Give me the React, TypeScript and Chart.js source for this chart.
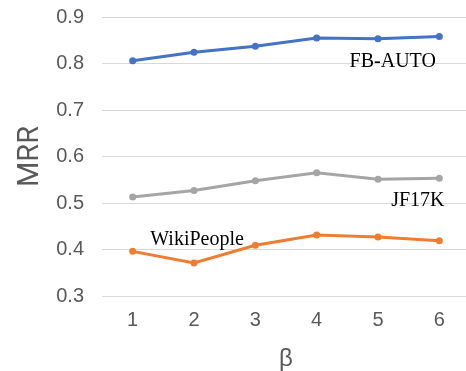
import React, { useEffect, useRef } from "react";
import { Chart, registerables } from "chart.js";

Chart.register(...registerables);

const categories = ["1", "2", "3", "4", "5", "6"];
const fbAuto = [0.806, 0.824, 0.837, 0.855, 0.853, 0.858];
const jf17k = [0.513, 0.527, 0.548, 0.565, 0.551, 0.553];
const wikiPeople = [0.396, 0.371, 0.409, 0.431, 0.427, 0.419];
const yTicks = [0.3, 0.4, 0.5, 0.6, 0.7, 0.8, 0.9];

// series name labels, anchored in data coordinates (category index, value)
const labelTexts = ["FB-AUTO", "JF17K", "WikiPeople"];
const labelIndex = [4.24, 4.65, 1.05];
const labelValue = [0.792, 0.494, 0.409];

const seriesLabelPlugin = {
  id: "seriesLabels",
  afterDatasetsDraw(chart: any) {
    const { ctx, scales } = chart;
    ctx.save();
    ctx.font = '20px "Liberation Serif", "Times New Roman", serif';
    ctx.fillStyle = "#000000";
    ctx.textAlign = "center";
    ctx.textBaseline = "alphabetic";
    labelTexts.forEach((t, i) => {
      const x = scales.x.getPixelForValue(labelIndex[i]);
      const y = scales.y.getPixelForValue(labelValue[i]);
      ctx.fillText(t, x, y);
    });
    ctx.restore();
  },
};

export default function App() {
  const ref = useRef<HTMLCanvasElement | null>(null);
  useEffect(() => {
    if (!ref.current) return;
    const mk = (label: string, data: number[], color: string) => ({
      label,
      data,
      borderColor: color,
      backgroundColor: color,
      borderWidth: 3,
      pointRadius: 3.5,
      pointBorderWidth: 0,
      pointBackgroundColor: color,
      tension: 0,
    });
    const chart = new Chart(ref.current, {
      type: "line",
      data: {
        labels: categories,
        datasets: [
          mk("FB-AUTO", fbAuto, "#4472C4"),
          mk("JF17K", jf17k, "#A5A5A5"),
          mk("WikiPeople", wikiPeople, "#ED7D31"),
        ],
      },
      options: {
        responsive: false,
        animation: false,
        layout: { padding: { top: 17, left: 0, right: 0, bottom: 0 } },
        plugins: { legend: { display: false }, tooltip: { enabled: false } },
        scales: {
          x: {
            offset: true,
            grid: { display: false, drawTicks: false },
            border: { display: false },
            ticks: {
              color: "#595959",
              padding: 12,
              font: { family: '"Liberation Sans", Arial, sans-serif', size: 20 },
            },
            title: {
              display: true,
              text: "β",
              color: "#595959",
              padding: { top: 0, bottom: 0 },
              font: { family: '"Liberation Sans", Arial, sans-serif', size: 24, lineHeight: 1 },
            },
            afterFit(scale: any) {
              scale.height = 75;
              scale.paddingLeft = 0;
              scale.paddingRight = 0;
            },
          },
          y: {
            min: 0.3,
            max: 0.9,
            afterBuildTicks(scale: any) {
              scale.ticks = yTicks.map((v) => ({ value: v }));
            },
            grid: { color: "#D9D9D9", lineWidth: 1, drawTicks: false },
            border: { display: false },
            ticks: {
              color: "#595959",
              padding: 18,
              font: { family: '"Liberation Sans", Arial, sans-serif', size: 20 },
              callback: (v: any) => Number(v).toFixed(1),
            },
            title: {
              display: true,
              text: "MRR",
              color: "#595959",
              padding: { top: 16, bottom: 0 },
              font: { family: 'Roboto, "Liberation Sans", sans-serif', size: 29, lineHeight: 1 },
            },
            afterFit(scale: any) {
              scale.width = 102;
              scale.paddingTop = 0;
              scale.paddingBottom = 0;
            },
          },
        },
      },
      plugins: [seriesLabelPlugin],
    });
    return () => chart.destroy();
  }, []);
  return (
    <div
      style={{
        position: "fixed",
        left: 0,
        top: 0,
        width: 466,
        height: 371,
        overflow: "hidden",
        background: "#ffffff",
      }}
    >
      <canvas ref={ref} width={474} height={371} style={{ display: "block" }} />
    </div>
  );
}
